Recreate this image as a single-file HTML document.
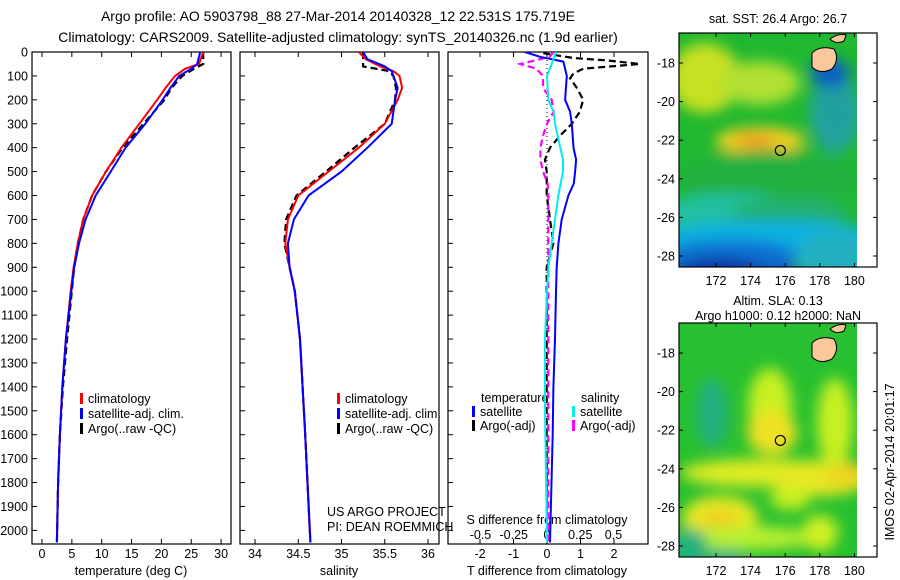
<!DOCTYPE html>
<html><head><meta charset="utf-8"><style>
html,body{margin:0;padding:0;background:#fff;}
svg{display:block;font-family:"Liberation Sans",sans-serif;}
</style></head><body>
<svg id="fig" width="900" height="580" viewBox="0 0 900 580">
<defs>
<filter id="bl" x="-50%" y="-50%" width="200%" height="200%"><feGaussianBlur stdDeviation="7"/></filter>
<clipPath id="c1"><rect x="679" y="33" width="178" height="234"/></clipPath>
<clipPath id="c2"><rect x="679" y="323" width="178" height="234"/></clipPath>
<clipPath id="p1"><rect x="32" y="52" width="199" height="492"/></clipPath>
<clipPath id="p2"><rect x="240" y="52" width="199" height="492"/></clipPath>
<clipPath id="p3"><rect x="448" y="52" width="200" height="492"/></clipPath>
</defs>
<text x="338" y="21" font-size="14" text-anchor="middle">Argo profile: AO 5903798_88 27-Mar-2014 20140328_12 22.531S 175.719E</text>
<text x="338" y="42" font-size="14" text-anchor="middle">Climatology: CARS2009. Satellite-adjusted climatology: synTS_20140326.nc (1.9d earlier)</text>
<g id="axes"></g>
<g id="series"></g>
<g id="maps"></g>
</svg>
<script>
// ---- data ----
const tDepth=[0,50,70,100,150,200,300,400,500,600,700,800,900,1000,1200,1400,1600,1800,2050];
const tClim=[27,26.3,24,22.3,20.7,19.3,16.3,13.3,10.7,8.4,6.9,6.0,5.3,4.8,4.0,3.4,3.0,2.7,2.5];
const tSat=[26.5,26,25,23,21.5,20.2,17.3,14,11.5,9,7.3,6.2,5.4,4.9,4.0,3.4,3.0,2.7,2.5];
const tArgo=[27,27,25.5,23.5,21.7,20.5,17,13.5,10.7,8.4,6.9,6,5.4,5,4.2,3.5,3.0,2.7,2.5];
const sDepth=[0,30,60,80,100,150,200,300,400,500,600,700,800,900,1000,1200,1400,1600,2050];
const sClim=[35.2,35.28,35.45,35.6,35.67,35.7,35.65,35.5,35.2,34.85,34.5,34.38,34.35,34.4,34.46,34.52,34.55,34.58,34.64];
const sSat=[35.25,35.3,35.5,35.58,35.6,35.65,35.62,35.58,35.3,35.0,34.62,34.45,34.38,34.4,34.46,34.52,34.55,34.58,34.64];
const sArgo=[35.25,35.25,35.25,35.55,35.6,35.63,35.62,35.5,35.15,34.82,34.48,34.36,34.34,34.4,34.46,34.52,34.55,34.58,34.64];
const dtSatDepth=[0,20,40,100,200,250,300,400,450,500,550,600,700,800,900,1000,1200,1400,1600,2050];
const dtSat=[-0.66,-0.21,0.49,0.59,0.54,0.69,0.74,0.79,0.87,0.84,0.80,0.64,0.44,0.34,0.29,0.27,0.24,0.19,0.17,0.09];
const dtArgoDepth=[5,25,35,50,70,90,110,150,200,250,300,350,400,450,500,600,700,800,900,1000,1500,2000];
const dtArgo=[-0.11,0.79,1.78,2.77,1.08,0.79,0.69,0.89,1.08,0.98,0.74,0.39,0.09,-0.06,-0.01,-0.01,0.09,0.19,-0.01,-0.01,-0.01,-0.01];
const dsSatDepth=[0,50,100,200,250,300,400,450,500,600,700,800,900,1000,1200,1500,2050];
const dsSat=[0.07,0.035,0,0.01,0.05,0.06,0.1,0.12,0.12,0.085,0.06,0.035,0.01,0,-0.015,-0.015,0];
const dsArgoDepth=[0,20,50,70,100,150,200,250,300,350,400,450,500,550,600,2050];
const dsArgo=[0.05,0.02,-0.2,-0.08,-0.03,-0.03,0.035,0.05,0,-0.03,-0.05,-0.05,-0.03,0.005,0.01,0.01];
const depthTicks=[0,100,200,300,400,500,600,700,800,900,1000,1100,1200,1300,1400,1500,1600,1700,1800,1900,2000];
const tTicks=[0,5,10,15,20,25,30];
const sTicks=[34,34.5,35,35.5,36];
const dtTicks=[-2,-1,0,1,2];
const dsTicks=[-0.5,-0.25,0,0.25,0.5];
const dsTickLabels=["-0.5","-0.25","0","0.25","0.5"];
const latTicks=[-18,-20,-22,-24,-26,-28];
const lonTicks=[172,174,176,178,180];

// ---- scales ----
const dy=d=>52+d*0.2392;
const tx=t=>42+t*5.97;
const sx=s=>255+(s-34)*86.5;
const dtx=v=>547+v*33.5;
const dsx=v=>547+v*133;
const NS='http://www.w3.org/2000/svg';
function mk(tag,attrs,parent,txt){const e=document.createElementNS(NS,tag);for(const k in attrs)e.setAttribute(k,attrs[k]);if(txt!==undefined)e.textContent=txt;parent.appendChild(e);return e;}
const axes=document.getElementById('axes'),ser=document.getElementById('series'),maps=document.getElementById('maps');

const panels=[[32,'temperature-panel'],[240,'salinity-panel'],[448,'difference-panel']];
panels.forEach(([x0,nm],i)=>{
  const w=i==2?200:199;
  const r=mk('rect',{x:x0,y:52,width:w,height:492,fill:'none',stroke:'#000','stroke-width':1.2},axes);
  
  
  depthTicks.forEach(d=>{mk('line',{x1:x0,x2:x0+5,y1:dy(d),y2:dy(d),stroke:'#000'},axes);});
});
depthTicks.forEach(d=>{
  const t=mk('text',{x:28,y:dy(d)+4.5,'font-size':12.5,'text-anchor':'end'},axes,String(d));
  
  
});
function xticks(vals,f,ly,fs){vals.forEach((v,i)=>{
  mk('line',{x1:f(v),x2:f(v),y1:544,y2:539,stroke:'#000'},axes);
  mk('line',{x1:f(v),x2:f(v),y1:52,y2:57,stroke:'#000'},axes);
  const t=mk('text',{x:f(v),y:ly,'font-size':fs,'text-anchor':'middle'},axes,String(v));
  
  
});}
xticks(tTicks,tx,558,12.5);
xticks(sTicks,sx,558,12.5);
xticks(dtTicks,dtx,558,12.5);
dsTicks.forEach((v,i)=>{const t=mk('text',{x:dsx(v),y:539,'font-size':12.5,'text-anchor':'middle'},axes,dsTickLabels[i]);
  
  });
[['temperature (deg C)',131,575,'x-axis-title-temperature'],['salinity',339,575,'x-axis-title-salinity'],['T difference from climatology',547,575,'x-axis-title-t-diff'],['S difference from climatology',547,524,'x-axis-title-s-diff']].forEach(a=>{
  const t=mk('text',{x:a[1],y:a[2],'font-size':12.5,'text-anchor':'middle'},axes,a[0]);
  
  
});
mk('line',{x1:547,x2:547,y1:52,y2:544,stroke:'#000','stroke-dasharray':'1,3'},axes);

function line(xs,ds,fx,color,dash,w,clip,name){
  const pts=xs.map((v,i)=>fx(v).toFixed(1)+','+dy(ds[i]).toFixed(1)).join(' ');
  const p=mk('polyline',{points:pts,fill:'none',stroke:color,'stroke-width':w,'stroke-dasharray':dash||'none','clip-path':'url(#'+clip+')'},ser);
  
  
}
line(tArgo,tDepth,tx,'#000','7,4',2.2,'p1','temp-argo-line');
line(tClim,tDepth,tx,'#f00','',2,'p1','temp-climatology-line');
line(tSat,tDepth,tx,'#00f','',2,'p1','temp-satellite-line');
line(sArgo,sDepth,sx,'#000','7,4',2.2,'p2','sal-argo-line');
line(sClim,sDepth,sx,'#f00','',2,'p2','sal-climatology-line');
line(sSat,sDepth,sx,'#00f','',2,'p2','sal-satellite-line');
line(dtArgo,dtArgoDepth,dtx,'#000','7,4',2.2,'p3','t-diff-argo-line');
line(dsArgo,dsArgoDepth,dsx,'#f0f','7,4',2.2,'p3','s-diff-argo-line');
line(dtSat,dtSatDepth,dtx,'#00f','',2,'p3','t-diff-satellite-line');
line(dsSat,dsSatDepth,dsx,'#0ee','',2,'p3','s-diff-satellite-line');

function leg(x,y,color,label,name){
  const g=mk('g',{},axes);
  
  
  mk('rect',{x:x,y:y-10,width:3,height:11,fill:color},g);
  mk('text',{x:x+8,y:y,'font-size':12.5},g,label);
}
[[80,'climatology-legend'],[337,'climatology-legend-2']].forEach(([x,n])=>{
  leg(x,403,'#f00','climatology',n+'-red');
  leg(x,418,'#00f','satellite-adj. clim.',n+'-blue');
  leg(x,433,'#000','Argo(..raw -QC)',n+'-black');
});
{const t=mk('text',{x:481,y:402,'font-size':12.5},axes,'temperature');
 const t2=mk('text',{x:581,y:402,'font-size':12.5},axes,'salinity');}
leg(472,416,'#00f','satellite','legend-t-satellite');
leg(472,430,'#000','Argo(-adj)','legend-t-argo');
leg(572,416,'#0ee','satellite','legend-s-satellite');
leg(572,430,'#f0f','Argo(-adj)','legend-s-argo');
{const t=mk('text',{x:327,y:516,'font-size':12.5},axes,'US ARGO PROJECT');
 const t2=mk('text',{x:327,y:531,'font-size':12.5},axes,'PI: DEAN ROEMMICH');}

function mapPanel(y0,clip,name,blobs,base,titles,tickY0){
  const g=mk('g',{},maps);
  
  
  const gc=mk('g',{'clip-path':'url(#'+clip+')'},g);
  mk('rect',{x:679,y:y0,width:178,height:234,fill:base},gc);
  const gb=mk('g',{filter:'url(#bl)'},gc);
  blobs.forEach(b=>mk('ellipse',{cx:b[0],cy:y0+b[1],rx:b[2],ry:b[3],fill:b[4]},gb));
  mk('path',{d:`M812 ${y0+20} q8 -8 22 -4 q6 10 -2 20 q-12 6 -20 -2 z`,fill:'#f9c89b',stroke:'#000','stroke-width':1},gc);
  mk('path',{d:`M830 ${y0+6} q8 -6 16 -4 l-2 6 q-8 4 -14 -2 z`,fill:'#f9c89b',stroke:'#000','stroke-width':1},gc);
  mk('rect',{x:679,y:y0,width:198,height:234,fill:'none',stroke:'#000','stroke-width':1.2},g);
  const lat2y=l=>tickY0+(-18-l)*19.3;
  latTicks.forEach(l=>{const yy=lat2y(l);
    mk('line',{x1:679,x2:683,y1:yy,y2:yy,stroke:'#000'},g);mk('line',{x1:877,x2:873,y1:yy,y2:yy,stroke:'#000'},g);
    const t=mk('text',{x:675,y:yy+4.5,'font-size':12.5,'text-anchor':'end'},g,String(l));
    
    });
  lonTicks.forEach(l=>{const xx=716+(l-172)*17.3;
    mk('line',{x1:xx,x2:xx,y1:y0+234,y2:y0+230,stroke:'#000'},g);mk('line',{x1:xx,x2:xx,y1:y0,y2:y0+4,stroke:'#000'},g);
    const t=mk('text',{x:xx,y:y0+252,'font-size':12.5,'text-anchor':'middle'},g,String(l));
    
    });
  const px=716+(175.719-172)*17.3, py=lat2y(-22.531);
  const c=mk('circle',{cx:px,cy:py,r:5,fill:'none',stroke:'#000','stroke-width':1.2},g);
  
  
  titles.forEach(tt=>{const t=mk('text',{x:tt[1],y:tt[2],'font-size':12.5,'text-anchor':'middle'},g,tt[0]);
    
    });
}
mapPanel(33,'c1','sst-map',[
 [705,45,35,35,'#c8e020'],[760,50,40,22,'#b0e030'],[760,108,45,14,'#f0d020'],[755,108,20,8,'#f0a020'],
 [835,80,25,40,'#20a0a0'],[830,40,20,15,'#1060c0'],[770,145,90,28,'#20b040'],[730,180,70,20,'#20c0a0'],
 [790,180,60,15,'#20b070'],[770,205,110,18,'#10b0e0'],[730,225,70,18,'#1070d0'],
 [720,245,50,20,'#1030a0'],[770,250,40,15,'#1040b0'],[835,225,40,25,'#20b0c0']
],'#20b830',[['sat. SST: 26.4 Argo: 26.7',778,23]],63);
mapPanel(323,'c2','sla-map',[
 [712,90,16,35,'#20b080'],[770,85,22,40,'#c8f020'],[772,110,25,22,'#f0e020'],
 [760,150,80,14,'#e0ec20'],[820,155,50,18,'#e8e820'],[845,150,20,12,'#f0d020'],
 [835,100,18,45,'#c8f020'],[720,195,38,22,'#e8e820'],[720,198,18,12,'#f0d020'],
 [790,175,20,12,'#c8f020'],[745,215,70,12,'#b8f030'],[820,210,18,18,'#d0f020'],[690,225,18,20,'#20b080'],[725,235,20,10,'#20b080']
],'#28c030',[['Altim. SLA: 0.13',778,305],['Argo h1000: 0.12 h2000: NaN',778,320]],353);
{const t=mk('text',{x:0,y:0,'font-size':12.5,'text-anchor':'middle',transform:'translate(894,462) rotate(-90)'},maps,'IMOS 02-Apr-2014 20:01:17');
 
 }
</script>
</body></html>
